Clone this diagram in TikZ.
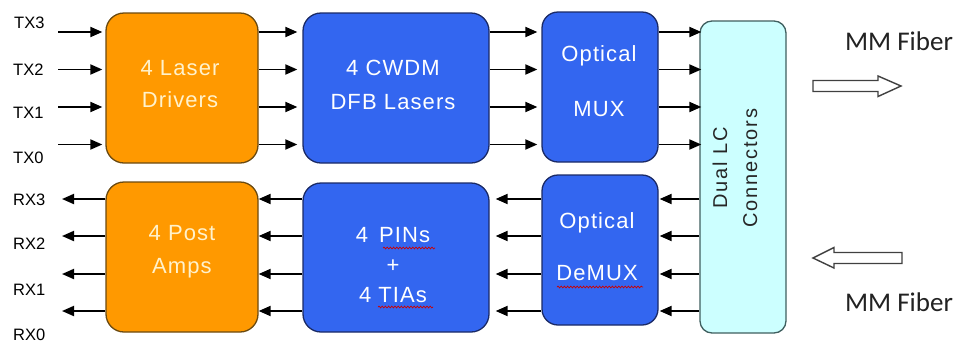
\documentclass[tikz,border=0pt]{standalone}
\usepackage{fontspec}
\setmainfont{Liberation Sans}
\newfontfamily\calib{Carlito}
\newfontfamily\boxfont[LetterSpace=5]{Liberation Sans}
\newfontfamily\connfont[LetterSpace=9]{Liberation Sans}
\usetikzlibrary{arrows.meta,decorations.pathmorphing}
\definecolor{orangefill}{HTML}{FF9900}
\definecolor{orangeedge}{HTML}{6B4A10}
\definecolor{bluefill}{HTML}{3366F0}
\definecolor{blueedge}{HTML}{1A2A66}
\definecolor{cyanfill}{HTML}{CCFFFF}
\definecolor{cyanedge}{HTML}{3F5F5F}
\definecolor{creamtext}{HTML}{FFF2CC}
\definecolor{fibertext}{HTML}{222222}
\definecolor{hollowedge}{HTML}{404040}
\begin{document}
\begin{tikzpicture}[x=1bp,y=-1bp,
  blk/.style={draw, line width=1.3bp, rounded corners=18bp, inner sep=0pt},
  orangeblk/.style={blk, fill=orangefill, draw=orangeedge},
  blueblk/.style={blk, fill=bluefill, draw=blueedge},
  conblk/.style={draw=cyanedge, fill=cyanfill, line width=1.3bp, rounded corners=12bp, inner sep=0pt},
  boxtxt/.style={align=center, inner sep=0pt},
  otxt/.style={boxtxt, text=creamtext},
  btxt/.style={boxtxt, text=white},
  arr/.style={line width=1.9bp, -{Triangle[length=12bp,width=10bp]}},
  lbl/.style={font=\fontsize{16.5bp}{18bp}\selectfont, inner sep=0pt, anchor=west, text=black},
  fiber/.style={font=\calib\fontsize{27bp}{30bp}\selectfont, text=fibertext, inner sep=0pt},
  hollow/.style={draw=hollowedge, fill=white, line width=1.4bp, line join=miter},
  squig/.style={draw=red!80!black, line width=0.7bp, decorate, decoration={snake, amplitude=0.9bp, segment length=3.2bp}}
]
\useasboundingbox (0,0) rectangle (960,350);

% boxes
\node[orangeblk, minimum width=152bp, minimum height=150bp] (drv) at (182,88) {};
\node[orangeblk, minimum width=152bp, minimum height=150bp] (amp) at (182,257) {};
\node[blueblk, minimum width=186bp, minimum height=150bp] (cwdm) at (396,88) {};
\node[blueblk, minimum width=186bp, minimum height=149bp] (pin) at (396,257.5) {};
\node[blueblk, minimum width=116bp, minimum height=150bp, rounded corners=16bp] (mux) at (600,87) {};
\node[blueblk, minimum width=116bp, minimum height=150bp, rounded corners=16bp] (demux) at (600,250) {};
\node[conblk, minimum width=86bp, minimum height=312bp] (conn) at (743,177) {};

% box texts
\node[otxt, font=\boxfont\fontsize{22bp}{32bp}\selectfont] (drvtxt) at (180,84) {4 Laser\\Drivers};
\node[otxt, font=\boxfont\fontsize{22bp}{33bp}\selectfont] (amptxt) at (182,251.5) {4 Post\\Amps};
\node[btxt, font=\boxfont\fontsize{22bp}{34bp}\selectfont] (cwdmtxt) at (393,85) {4 CWDM\\DFB Lasers};
\node[btxt, font=\boxfont\fontsize{22bp}{30bp}\selectfont] (pintxt) at (393,265) {4\enspace PINs\\+\\4 TIAs};
\node[btxt, font=\boxfont\fontsize{22bp}{55bp}\selectfont] (muxtxt) at (599,81) {Optical\\MUX};
\node[btxt, font=\boxfont\fontsize{22bp}{52bp}\selectfont] (demuxtxt) at (597,247) {Optical\\DeMUX};
\node[align=center, inner sep=0pt, rotate=90, text=black!85, font=\connfont\fontsize{20bp}{30bp}\selectfont] (conntxt) at (735,168) {Dual LC\\Connectors};

% spell-check squiggles
\draw[squig] (383,248) -- (435,248);
\draw[squig] (378,307) -- (433,307);
\draw[squig] (557,287) -- (643,287);

% TX labels and inputs
\node[lbl] (tx3) at (14,22.5) {TX3};
\node[lbl] (tx2) at (13,70) {TX2};
\node[lbl] (tx1) at (13,113) {TX1};
\node[lbl] (tx0) at (13,158) {TX0};
\coordinate (t3) at (58,32);
\coordinate (t2) at (58,69.5);
\coordinate (t1) at (58,107);
\coordinate (t0) at (58,144.5);
\foreach \c in {t3,t2,t1,t0}{
  \draw[arr, shorten >=3bp] (\c) -- (drv.west |- \c);
  \draw[arr, shorten >=5bp] (drv.east |- \c) -- (cwdm.west |- \c);
  \draw[arr, shorten >=4bp] (cwdm.east |- \c) -- (mux.west |- \c);
  \draw[arr, shorten >=-2bp] (mux.east |- \c) -- (conn.west |- \c);
}

% RX labels and outputs
\node[lbl] (rx3) at (13,200) {RX3};
\node[lbl] (rx2) at (13,244) {RX2};
\node[lbl] (rx1) at (13,290) {RX1};
\node[lbl] (rx0) at (13,335) {RX0};
\coordinate (r3) at (62,199);
\coordinate (r2) at (62,236);
\coordinate (r1) at (62,274);
\coordinate (r0) at (62,311);
\foreach \c in {r3,r2,r1,r0}{
  \draw[arr, shorten >=1bp] (conn.west |- \c) -- (demux.east |- \c);
  \draw[arr, shorten >=6bp] (demux.west |- \c) -- (pin.east |- \c);
  \draw[arr, shorten >=0bp] (pin.west |- \c) -- (amp.east |- \c);
  \draw[arr] (amp.west |- \c) -- (\c);
}

% fiber labels and hollow arrows
\node[fiber] (mmtop) at (899,41) {MM Fiber};
\node[fiber] (mmbot) at (899,302) {MM Fiber};
\draw[hollow] (813,80.5) -- (878,80.5) -- (878,76) -- (901,86) -- (878,96.5) -- (878,91.5) -- (813,91.5) -- cycle;
\draw[hollow] (902,252.5) -- (834,252.5) -- (834,247.5) -- (813,258) -- (834,268) -- (834,263.5) -- (902,263.5) -- cycle;
\end{tikzpicture}
\end{document}
